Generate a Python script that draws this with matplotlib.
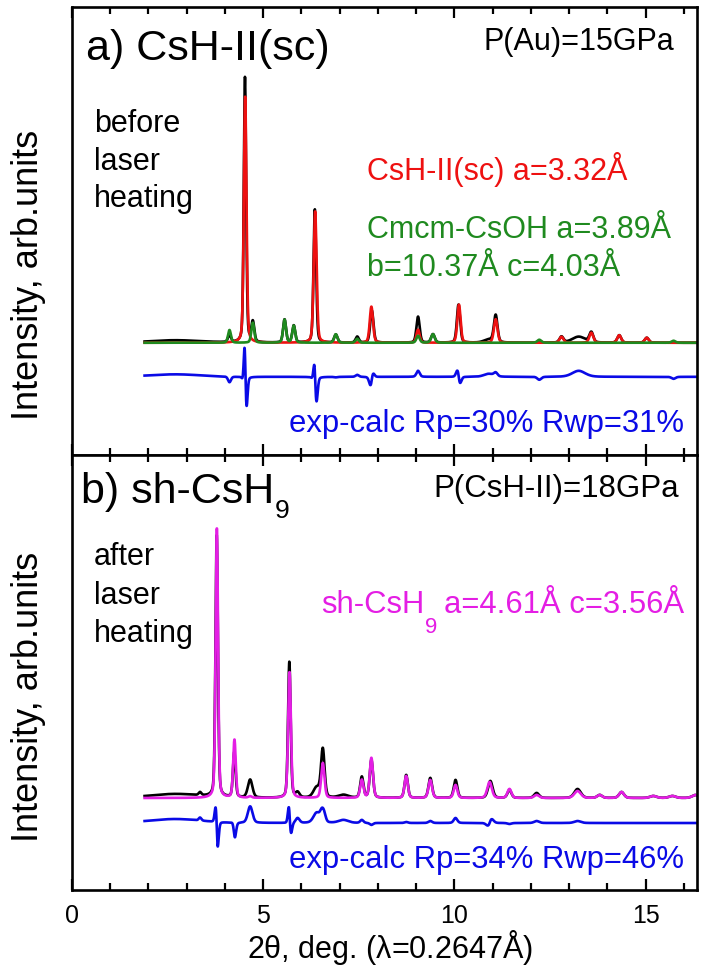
import numpy as np
import matplotlib
matplotlib.use('Agg')
import matplotlib.pyplot as plt
from matplotlib.ticker import MultipleLocator

plt.rcParams['font.family'] = ['Liberation Sans', 'DejaVu Sans']
plt.rcParams['mathtext.fontset'] = 'custom'
plt.rcParams['mathtext.rm'] = 'Liberation Sans'
plt.rcParams['mathtext.it'] = 'Liberation Sans:italic'

# ---- peak tables (2theta, height, fwhm) ----
# panel a: observed pattern
a_obs_pos = [2.70, 4.12, 4.525, 4.73, 5.56, 5.80, 6.352, 6.90, 7.46, 7.842,
             9.05, 9.44, 10.108, 10.90, 11.08, 12.80, 13.25, 13.58, 14.31, 15.03]
a_obs_h = [2.5, 7, 265, 20, 23, 17, 133, 8, 6, 32,
           26, 8.5, 38, 3, 27, 6, 6, 10, 7.5, 5]
a_obs_w = [1.6, 0.09, 0.072, 0.09, 0.09, 0.09, 0.08, 0.10, 0.10, 0.10,
           0.10, 0.11, 0.10, 0.30, 0.11, 0.12, 0.40, 0.12, 0.12, 0.12]
# panel a: calculated CsH-II(sc)
a_red_pos = [4.53, 6.36, 7.83, 9.05, 10.12, 11.08, 12.80, 13.58, 14.31, 15.03]
a_red_h = [246, 131, 36, 13, 38, 23.5, 6, 10, 7.5, 5]
a_red_w = [0.08, 0.09, 0.10, 0.10, 0.10, 0.11, 0.12, 0.12, 0.12, 0.12]
# panel a: calculated Cmcm-CsOH
a_grn_pos = [4.12, 4.73, 5.56, 5.80, 6.90, 7.46, 9.05, 9.44, 12.22, 15.73]
a_grn_h = [12.7, 20, 23, 17, 8.5, 4, 7, 8.5, 3, 2]
a_grn_w = [0.09, 0.09, 0.09, 0.09, 0.10, 0.10, 0.10, 0.11, 0.12, 0.12]

# panel b: observed pattern
b_obs_pos = [2.70, 3.35, 3.786, 4.245, 4.66, 5.685, 5.90, 6.40, 6.56, 7.10,
             7.58, 7.83, 8.74, 9.37, 10.03, 10.94, 11.44, 12.15, 13.22, 13.80,
             14.37, 15.20, 15.70, 16.30]
b_obs_h = [4, 3, 262, 45, 18, 136, 5, 10, 48, 3,
           21, 38, 23, 20, 18, 17, 8, 5, 9, 3,
           6, 2, 2, 3]
b_obs_w = [1.6, 0.08, 0.075, 0.08, 0.14, 0.08, 0.12, 0.20, 0.11, 0.30,
           0.10, 0.10, 0.10, 0.11, 0.11, 0.14, 0.12, 0.15, 0.20, 0.15,
           0.15, 0.20, 0.20, 0.20]
# panel b: calculated sh-CsH9
b_mag_pos = [3.79, 4.25, 4.66, 5.69, 6.56, 7.58, 7.83, 8.74, 9.37, 10.03,
             10.92, 11.44, 12.15, 13.22, 13.80, 14.37, 15.20, 15.70, 16.30]
b_mag_h = [270, 58, 1.5, 126, 35, 18, 40, 22, 18, 13,
           16, 9, 3, 7, 3, 6, 2, 2, 3]
b_mag_w = [0.075, 0.08, 0.10, 0.085, 0.10, 0.10, 0.10, 0.10, 0.11, 0.11,
           0.14, 0.12, 0.15, 0.20, 0.15, 0.15, 0.20, 0.20, 0.20]

tth = np.arange(1.9, 16.36, 0.004)


def profile(x, pos, h, w, eta=0.3):
    y = np.zeros_like(x)
    for p, hh, ww in zip(pos, h, w):
        d = (x - p) / ww
        y += hh * (eta / (1 + 4 * d ** 2) + (1 - eta) * np.exp(-4 * np.log(2) * d ** 2))
    return y


a_obs = profile(tth, a_obs_pos, a_obs_h, a_obs_w)
a_red = profile(tth, a_red_pos, a_red_h, a_red_w)
a_grn = profile(tth, a_grn_pos, a_grn_h, a_grn_w)
a_dif = a_obs - a_red - a_grn - 34

b_obs = profile(tth, b_obs_pos, b_obs_h, b_obs_w)
b_mag = profile(tth, b_mag_pos, b_mag_h, b_mag_w)
b_dif = b_obs - b_mag - 25

RED = '#ee1111'
GRN = '#1f8a1f'
BLU = '#0a0ae6'
MAG = '#e41ee4'

fig = plt.figure(figsize=(7.05, 9.65), dpi=100)
ax1 = fig.add_axes([0.102, 0.5285, 0.887, 0.4642])
ax2 = fig.add_axes([0.102, 0.0777, 0.887, 0.4508])

lw = 1.9
ax1.plot(tth, a_obs, color='black', lw=lw)
ax1.plot(tth, a_red, color=RED, lw=lw)
ax1.plot(tth, a_grn, color=GRN, lw=lw)
ax1.plot(tth, a_dif, color=BLU, lw=lw)
ax1.set_ylim(-112, 335)

ax2.plot(tth, b_obs, color='black', lw=lw)
ax2.plot(tth, b_mag, color=MAG, lw=lw)
ax2.plot(tth, b_dif, color=BLU, lw=lw)
ax2.set_ylim(-92, 343)

for ax in (ax1, ax2):
    ax.set_xlim(0, 16.35)
    ax.xaxis.set_major_locator(MultipleLocator(5))
    ax.xaxis.set_minor_locator(MultipleLocator(1))
    ax.tick_params(axis='x', which='both', direction='in', top=True, bottom=True,
                   width=1.6, labelsize=18, pad=10)
    ax.tick_params(axis='x', which='major', length=8)
    ax.tick_params(axis='x', which='minor', length=5)
    ax.set_yticks([])
    for s in ax.spines.values():
        s.set_linewidth(1.9)
    ax.set_ylabel('Intensity, arb.units', fontsize=26)

ax1.tick_params(axis='x', labelbottom=False)
ax1.yaxis.set_label_coords(-0.042, 0.402)
ax2.yaxis.set_label_coords(-0.042, 0.444)
xl = ax2.set_xlabel(r'2$\mathrm{\theta}$, deg. ($\mathrm{\lambda}$=0.2647Å)', fontsize=22)
xl.set_va('center')
ax2.xaxis.set_label_coords(0.508, -0.1315)

# panel a texts
ax1.text(0.023, 0.882, 'a) CsH-II(sc)', transform=ax1.transAxes, fontsize=31, va='baseline')
ax1.text(0.963, 0.904, 'P(Au)=15GPa', transform=ax1.transAxes, fontsize=22,
         ha='right', va='baseline')
for yy, s in zip([0.7217, 0.636, 0.554], ['before', 'laser', 'heating']):
    ax1.text(0.035, yy, s, transform=ax1.transAxes, fontsize=22, va='baseline')
ax1.text(0.472, 0.614, 'CsH-II(sc) a=3.32Å', transform=ax1.transAxes, fontsize=22,
         color=RED, va='baseline')
ax1.text(0.472, 0.4837, 'Cmcm-CsOH a=3.89Å', transform=ax1.transAxes, fontsize=22,
         color=GRN, va='baseline')
ax1.text(0.472, 0.3996, 'b=10.37Å c=4.03Å', transform=ax1.transAxes, fontsize=22,
         color=GRN, va='baseline')
ax1.text(0.979, 0.052, 'exp-calc Rp=30% Rwp=31%', transform=ax1.transAxes, fontsize=22.3,
         color=BLU, ha='right', va='baseline')

# panel b texts
ax2.text(0.971, 0.903, 'P(CsH-II)=18GPa', transform=ax2.transAxes, fontsize=22.5,
         ha='right', va='baseline')
for yy, s in zip([0.747, 0.6575, 0.571], ['after', 'laser', 'heating']):
    ax2.text(0.035, yy, s, transform=ax2.transAxes, fontsize=22, va='baseline')
ax2.text(0.979, 0.0506, 'exp-calc Rp=34% Rwp=46%', transform=ax2.transAxes, fontsize=22.3,
         color=BLU, ha='right', va='baseline')

# texts with a low subscript 9, built from pieces
fig.canvas.draw()
rend = fig.canvas.get_renderer()


def sub_text(ax, x, y, head, tail, size, subsize, drop, color):
    t = ax.text(x, y, head, transform=ax.transAxes, fontsize=size, color=color,
                va='baseline')
    bb = t.get_window_extent(rend)
    x0, y0 = ax.transAxes.transform((x, y))
    s = fig.text((bb.x1 + 1) / fig.bbox.width, (y0 - drop) / fig.bbox.height, '9',
                 fontsize=subsize, color=color, va='baseline')
    if tail:
        sb = s.get_window_extent(rend)
        fig.text((sb.x1 + 7) / fig.bbox.width, y0 / fig.bbox.height, tail,
                 fontsize=size, color=color, va='baseline')


sub_text(ax2, 0.014, 0.8897, 'b) sh-CsH', '', 31, 19, 15, 'black')
sub_text(ax2, 0.398, 0.637, 'sh-CsH', 'a=4.61Å c=3.56Å', 22.3, 16, 20, MAG)

fig.savefig('out.png', dpi=100)
